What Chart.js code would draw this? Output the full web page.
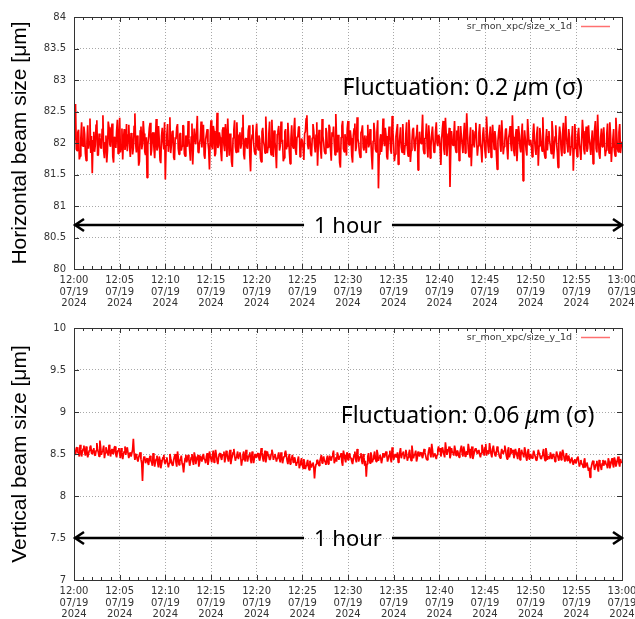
<!DOCTYPE html>
<html>
<head>
<meta charset="utf-8">
<script src="https://cdn.jsdelivr.net/npm/chart.js@4/dist/chart.umd.min.js"></script>
<style>
  body { margin: 0; background: #fff; }
  #wrap { position: relative; width: 635px; height: 619px; }
  #wrap canvas { position: absolute; left: 0; }
</style>
</head>
<body>
<div id="wrap">
  <canvas id="sizeXChart" width="635" height="310" style="top:0"></canvas>
  <canvas id="sizeYChart" width="635" height="309" style="top:310px"></canvas>
</div>
<script>
// x axis: minutes after 12:00, one sample every 5 s
const tickTimes = ['12:00', '12:05', '12:10', '12:15', '12:20', '12:25', '12:30',
                   '12:35', '12:40', '12:45', '12:50', '12:55', '13:00'];
const tickDate = '07/19';
const tickYear = '2024';
const stepMin = 5 / 60;

// horizontal beam size [um], one row = 2 minutes
const sizeX = [
  82.05, 82.31, 82.62, 81.90, 81.88, 82.17, 82.21, 81.74, 81.79, 82.08, 82.33, 81.96, 81.95, 82.26, 82.14, 81.83, 81.72, 82.02, 82.28, 81.91, 82.02, 82.39, 81.84, 82.11,
  81.52, 82.04, 82.18, 81.86, 81.97, 82.29, 82.36, 81.80, 81.81, 82.15, 82.09, 81.93, 81.91, 82.22, 82.44, 81.87, 81.76, 82.01, 82.12, 81.69, 81.88, 82.34, 82.25, 81.98,
  81.94, 82.19, 82.31, 81.78, 81.69, 82.10, 82.07, 81.92, 82.19, 82.37, 81.83, 82.00, 82.40, 81.85, 81.96, 82.23, 81.74, 82.06, 82.22, 81.89, 82.01, 82.30, 81.87, 82.13,
  82.29, 81.95, 81.78, 82.16, 82.11, 81.82, 81.92, 82.27, 82.47, 81.99, 81.85, 82.12, 82.03, 81.64, 81.71, 82.20, 82.26, 81.90, 81.99, 82.35, 82.15, 81.86, 81.81, 82.09,
  81.45, 81.97, 82.08, 82.24, 82.32, 81.80, 81.89, 82.14, 82.17, 81.93, 81.76, 82.05, 82.38, 81.88, 81.94, 82.27, 82.05, 81.73, 81.68, 82.11, 82.24, 82.02, 81.90, 82.33,
  81.42, 81.96, 82.13, 82.30, 81.86, 82.04, 82.41, 81.84, 81.97, 82.18, 82.20, 81.77, 81.73, 82.09, 82.06, 82.25, 82.30, 81.91, 81.82, 82.14, 82.16, 81.88, 81.95, 82.28,
  82.27, 81.83, 81.79, 82.12, 82.02, 81.94, 82.35, 82.07, 81.88, 81.72, 82.10, 82.31, 81.66, 81.98, 82.23, 82.05, 81.98, 82.19, 82.43, 81.86, 81.84, 82.00, 82.07, 82.34,
  81.93, 82.16, 82.29, 81.81, 81.75, 82.06, 82.14, 82.22, 82.01, 81.89, 81.58, 82.11, 82.36, 81.95, 81.90, 82.27, 82.19, 81.79, 81.83, 82.04, 82.48, 81.92, 81.96, 82.17,
  82.09, 81.86, 81.71, 82.20, 82.25, 81.97, 81.87, 82.30, 82.12, 81.78, 82.39, 82.03, 81.80, 82.15, 82.04, 81.70, 81.62, 82.08, 82.21, 82.36, 81.94, 81.85, 82.33, 82.01,
  81.85, 82.13, 82.17, 81.91, 81.98, 82.24, 82.45, 81.82, 81.74, 82.06, 82.08, 81.94, 81.91, 82.20, 82.28, 81.79, 81.55, 82.02, 82.13, 82.29, 82.00, 81.87, 81.82, 82.16,
  82.31, 81.97, 81.89, 82.12, 82.06, 81.76, 81.70, 82.18, 82.24, 82.03, 81.96, 81.84, 82.42, 82.09, 81.84, 81.93, 82.15, 82.34, 81.93, 81.81, 82.37, 82.05, 81.78, 82.20,
  82.02, 81.88, 81.60, 82.14, 82.19, 82.27, 81.88, 81.95, 82.34, 82.01, 82.05, 81.71, 81.76, 82.18, 82.22, 81.90, 81.95, 82.32, 82.11, 81.85, 81.67, 82.06, 82.28, 81.97,
  81.92, 82.21, 82.40, 81.89, 81.81, 82.10, 82.09, 82.25, 82.26, 81.78, 81.86, 82.07, 82.03, 81.92, 81.73, 82.15, 82.18, 82.39, 82.44, 81.97, 81.90, 82.12, 82.07, 81.83,
  81.79, 82.08, 82.30, 82.19, 81.97, 81.85, 82.13, 82.33, 81.64, 81.99, 82.21, 82.04, 81.89, 81.75, 82.38, 82.11, 82.01, 81.87, 81.83, 82.24, 82.16, 81.92, 81.94, 82.29,
  82.25, 81.90, 81.72, 82.17, 82.10, 82.26, 81.99, 81.81, 82.46, 82.06, 81.85, 82.13, 82.04, 81.69, 81.61, 82.09, 82.27, 82.35, 81.91, 81.86, 82.14, 82.02, 81.80, 82.23,
  82.35, 81.98, 81.96, 82.20, 82.08, 81.79, 81.69, 82.12, 82.23, 82.31, 81.87, 81.94, 82.41, 82.07, 82.00, 81.84, 81.77, 82.16, 82.19, 82.28, 81.93, 81.88, 82.12, 82.01,
  81.84, 82.11, 82.29, 81.93, 81.98, 82.22, 82.06, 81.80, 81.58, 82.03, 82.32, 82.17, 81.90, 81.86, 82.17, 82.36, 81.28, 81.82, 82.05, 82.14, 81.86, 81.99, 82.39, 82.08,
  81.95, 82.24, 82.11, 81.78, 81.74, 82.05, 82.26, 82.12, 81.89, 81.83, 82.43, 82.19, 81.97, 81.71, 81.82, 82.10, 82.20, 82.30, 81.66, 81.92, 82.09, 82.25, 81.93, 81.85,
  82.30, 82.02, 81.81, 81.96, 82.15, 82.33, 81.92, 81.79, 82.37, 82.14, 81.70, 81.88, 82.03, 82.21, 82.24, 81.94, 81.87, 82.07, 82.12, 82.29, 81.57, 81.83, 82.18, 82.04,
  81.99, 82.16, 82.45, 81.90, 81.83, 82.08, 82.07, 82.31, 81.94, 81.77, 82.28, 82.10, 81.76, 81.95, 82.14, 82.26, 82.02, 81.85, 81.88, 82.18, 82.33, 82.00, 81.95, 82.13,
  82.10, 81.92, 81.65, 82.06, 82.22, 82.35, 81.90, 81.81, 82.40, 82.15, 81.79, 81.97, 82.06, 82.24, 81.30, 81.88, 82.19, 82.02, 81.96, 82.11, 82.35, 81.93, 81.85, 82.20,
  82.04, 82.27, 81.72, 81.86, 82.27, 82.09, 81.98, 81.84, 82.13, 82.32, 81.84, 82.01, 82.47, 82.15, 81.91, 81.78, 82.08, 82.25, 81.63, 81.97, 82.21, 82.06, 81.93, 82.18,
  82.32, 82.05, 81.80, 81.95, 82.16, 82.30, 82.00, 81.89, 81.69, 82.12, 82.25, 82.04, 81.87, 81.76, 82.42, 82.17, 81.95, 81.84, 82.11, 82.26, 81.77, 81.99, 82.29, 82.09,
  81.90, 82.19, 82.07, 81.82, 81.58, 82.03, 82.18, 82.29, 81.96, 81.86, 82.36, 82.12, 81.82, 81.94, 82.03, 82.21, 82.23, 81.91, 81.74, 82.08, 82.15, 82.27, 81.98, 81.87,
  82.44, 82.10, 81.86, 81.79, 82.09, 82.22, 81.71, 81.97, 82.27, 82.14, 81.93, 81.85, 82.12, 82.31, 81.40, 81.92, 82.20, 82.06, 81.89, 81.80, 82.38, 82.16, 81.97, 82.02,
  82.05, 81.94, 81.78, 82.13, 82.31, 82.07, 81.92, 81.81, 82.14, 82.26, 81.64, 81.95, 82.24, 82.12, 81.99, 81.87, 82.41, 82.03, 81.83, 81.76, 82.06, 82.22, 81.88, 82.10,
  82.19, 82.02, 81.95, 81.83, 82.35, 82.18, 81.75, 81.90, 82.10, 82.28, 82.01, 81.86, 81.61, 82.05, 82.26, 82.14, 81.90, 81.79, 82.16, 82.32, 81.84, 81.96, 82.43, 82.11,
  81.97, 81.85, 82.22, 82.09, 81.80, 81.94, 82.08, 82.27, 81.56, 81.91, 82.30, 82.12, 81.93, 81.78, 82.13, 82.24, 82.00, 81.88, 81.73, 82.05, 82.37, 82.19, 81.89, 81.82,
  82.11, 82.26, 81.86, 81.92, 82.28, 82.06, 81.96, 81.81, 82.04, 82.20, 81.67, 81.94, 82.21, 82.35, 81.91, 81.85, 82.45, 82.09, 81.82, 81.75, 82.09, 82.23, 81.94, 82.03,
  82.25, 82.01, 81.79, 81.88, 82.14, 82.31, 81.99, 81.84, 82.33, 82.12, 81.70, 81.93, 82.06, 82.22, 81.88, 81.79, 82.40, 82.15, 81.92, 81.86, 82.17, 82.30, 81.84, 81.96,
  82.02
];

// vertical beam size [um], one row = 2 minutes
const sizeY = [
  8.55, 8.51, 8.49, 8.57, 8.58, 8.52, 8.51, 8.47, 8.61, 8.55, 8.47, 8.53, 8.56, 8.60, 8.52, 8.48, 8.59, 8.54, 8.46, 8.50, 8.54, 8.58, 8.60, 8.51,
  8.50, 8.55, 8.57, 8.49, 8.48, 8.54, 8.63, 8.56, 8.52, 8.47, 8.66, 8.58, 8.49, 8.53, 8.55, 8.60, 8.45, 8.51, 8.58, 8.54, 8.53, 8.48, 8.61, 8.56,
  8.47, 8.53, 8.56, 8.50, 8.51, 8.58, 8.59, 8.49, 8.46, 8.53, 8.54, 8.57, 8.50, 8.45, 8.57, 8.52, 8.44, 8.50, 8.53, 8.59, 8.49, 8.55, 8.58, 8.51,
  8.45, 8.50, 8.52, 8.47, 8.47, 8.55, 8.68, 8.51, 8.43, 8.48, 8.50, 8.44, 8.41, 8.46, 8.49, 8.52, 8.44, 8.39, 8.18, 8.42, 8.47, 8.45, 8.39, 8.43,
  8.45, 8.40, 8.37, 8.44, 8.48, 8.42, 8.40, 8.36, 8.51, 8.45, 8.35, 8.41, 8.44, 8.48, 8.39, 8.34, 8.47, 8.43, 8.33, 8.38, 8.43, 8.46, 8.49, 8.40,
  8.38, 8.43, 8.46, 8.40, 8.34, 8.39, 8.50, 8.45, 8.41, 8.37, 8.36, 8.43, 8.47, 8.50, 8.40, 8.35, 8.53, 8.46, 8.37, 8.41, 8.44, 8.48, 8.39, 8.36,
  8.28, 8.38, 8.45, 8.49, 8.40, 8.44, 8.49, 8.43, 8.36, 8.41, 8.46, 8.50, 8.42, 8.37, 8.52, 8.47, 8.38, 8.43, 8.44, 8.49, 8.35, 8.40, 8.48, 8.45,
  8.41, 8.47, 8.50, 8.44, 8.43, 8.39, 8.47, 8.51, 8.37, 8.42, 8.53, 8.48, 8.44, 8.40, 8.49, 8.54, 8.40, 8.45, 8.55, 8.49, 8.42, 8.38, 8.46, 8.50,
  8.51, 8.46, 8.43, 8.49, 8.49, 8.53, 8.40, 8.45, 8.54, 8.50, 8.45, 8.41, 8.50, 8.55, 8.38, 8.44, 8.47, 8.52, 8.56, 8.49, 8.42, 8.46, 8.48, 8.53,
  8.44, 8.49, 8.52, 8.47, 8.36, 8.43, 8.49, 8.53, 8.45, 8.41, 8.55, 8.50, 8.41, 8.46, 8.48, 8.52, 8.43, 8.39, 8.53, 8.48, 8.39, 8.45, 8.50, 8.46,
  8.46, 8.50, 8.51, 8.45, 8.42, 8.48, 8.57, 8.52, 8.45, 8.41, 8.49, 8.54, 8.40, 8.46, 8.53, 8.49, 8.47, 8.43, 8.44, 8.50, 8.55, 8.51, 8.43, 8.47,
  8.50, 8.46, 8.41, 8.45, 8.48, 8.52, 8.44, 8.40, 8.52, 8.48, 8.39, 8.44, 8.47, 8.51, 8.54, 8.48, 8.42, 8.38, 8.46, 8.50, 8.38, 8.42, 8.45, 8.49,
  8.40, 8.44, 8.46, 8.41, 8.36, 8.40, 8.43, 8.47, 8.33, 8.37, 8.41, 8.45, 8.37, 8.33, 8.44, 8.39, 8.32, 8.36, 8.39, 8.43, 8.35, 8.31, 8.42, 8.38,
  8.34, 8.38, 8.40, 8.35, 8.21, 8.33, 8.38, 8.42, 8.43, 8.39, 8.36, 8.41, 8.45, 8.49, 8.39, 8.43, 8.47, 8.42, 8.41, 8.37, 8.44, 8.48, 8.38, 8.42,
  8.48, 8.44, 8.42, 8.47, 8.50, 8.54, 8.39, 8.43, 8.46, 8.41, 8.52, 8.48, 8.43, 8.47, 8.47, 8.51, 8.40, 8.36, 8.54, 8.49, 8.44, 8.40, 8.49, 8.52,
  8.43, 8.47, 8.51, 8.46, 8.45, 8.41, 8.38, 8.44, 8.49, 8.53, 8.44, 8.40, 8.56, 8.50, 8.41, 8.45, 8.47, 8.51, 8.42, 8.38, 8.50, 8.46, 8.36, 8.42,
  8.23, 8.38, 8.47, 8.51, 8.43, 8.39, 8.52, 8.48, 8.40, 8.44, 8.48, 8.53, 8.45, 8.41, 8.55, 8.50, 8.42, 8.46, 8.49, 8.45, 8.39, 8.44, 8.51, 8.47,
  8.46, 8.50, 8.53, 8.48, 8.41, 8.45, 8.49, 8.54, 8.44, 8.40, 8.58, 8.51, 8.43, 8.47, 8.50, 8.46, 8.47, 8.52, 8.40, 8.44, 8.52, 8.57, 8.45, 8.49,
  8.49, 8.53, 8.44, 8.48, 8.55, 8.50, 8.42, 8.46, 8.51, 8.55, 8.46, 8.42, 8.60, 8.52, 8.45, 8.49, 8.50, 8.54, 8.41, 8.45, 8.53, 8.49, 8.47, 8.51,
  8.52, 8.48, 8.45, 8.50, 8.56, 8.52, 8.48, 8.44, 8.43, 8.48, 8.54, 8.58, 8.50, 8.46, 8.62, 8.55, 8.46, 8.50, 8.51, 8.47, 8.44, 8.49, 8.55, 8.59,
  8.53, 8.57, 8.47, 8.51, 8.58, 8.54, 8.50, 8.46, 8.64, 8.56, 8.49, 8.53, 8.55, 8.59, 8.45, 8.49, 8.57, 8.52, 8.52, 8.48, 8.60, 8.55, 8.48, 8.53,
  8.54, 8.50, 8.46, 8.51, 8.56, 8.60, 8.51, 8.47, 8.59, 8.54, 8.47, 8.52, 8.53, 8.49, 8.62, 8.56, 8.49, 8.45, 8.55, 8.59, 8.44, 8.48, 8.52, 8.56,
  8.57, 8.53, 8.50, 8.54, 8.55, 8.49, 8.46, 8.51, 8.61, 8.57, 8.52, 8.48, 8.58, 8.62, 8.48, 8.53, 8.54, 8.50, 8.63, 8.56, 8.50, 8.46, 8.56, 8.60,
  8.53, 8.49, 8.47, 8.52, 8.59, 8.55, 8.51, 8.47, 8.45, 8.50, 8.56, 8.52, 8.50, 8.54, 8.60, 8.55, 8.48, 8.44, 8.54, 8.58, 8.46, 8.50, 8.57, 8.53,
  8.51, 8.55, 8.45, 8.49, 8.56, 8.52, 8.48, 8.44, 8.53, 8.57, 8.43, 8.47, 8.55, 8.51, 8.50, 8.46, 8.58, 8.54, 8.46, 8.42, 8.52, 8.56, 8.44, 8.48,
  8.50, 8.46, 8.45, 8.49, 8.54, 8.50, 8.47, 8.43, 8.42, 8.47, 8.55, 8.51, 8.49, 8.45, 8.44, 8.48, 8.52, 8.56, 8.46, 8.42, 8.57, 8.52, 8.43, 8.47,
  8.48, 8.44, 8.52, 8.48, 8.44, 8.49, 8.50, 8.46, 8.41, 8.45, 8.53, 8.49, 8.46, 8.42, 8.49, 8.53, 8.43, 8.47, 8.55, 8.51, 8.45, 8.41, 8.47, 8.51,
  8.42, 8.46, 8.48, 8.43, 8.39, 8.44, 8.46, 8.41, 8.37, 8.42, 8.44, 8.39, 8.40, 8.45, 8.47, 8.42, 8.35, 8.39, 8.43, 8.38, 8.38, 8.34, 8.41, 8.45,
  8.34, 8.38, 8.40, 8.35, 8.30, 8.34, 8.22, 8.31, 8.36, 8.40, 8.42, 8.37, 8.31, 8.35, 8.38, 8.42, 8.33, 8.29, 8.43, 8.39, 8.35, 8.31, 8.39, 8.43,
  8.36, 8.40, 8.42, 8.38, 8.37, 8.33, 8.45, 8.41, 8.33, 8.37, 8.41, 8.45, 8.38, 8.34, 8.46, 8.42, 8.35, 8.39, 8.43, 8.47, 8.39, 8.35, 8.44, 8.40,
  8.40
];

const tickFont = { family: 'DejaVu Sans', size: 10, lineHeight: 1.15 };
const noteFont = '"Noto Sans", "Open Sans", sans-serif';

// gnuplot style frame: border, inward ticks, legend, arrow and notes
const framePlugin = {
  id: 'frame',
  afterDatasetsDraw(chart, args, opts) {
    const { ctx, chartArea: a, scales: { x, y } } = chart;
    ctx.save();

    // inward tick marks (minor every minute)
    ctx.strokeStyle = '#333';
    ctx.lineWidth = 1;
    ctx.beginPath();
    for (let m = x.min; m <= x.max; m++) {
      const px = Math.round(x.getPixelForValue(m)) + 0.5;
      const len = m % 5 === 0 ? 5 : 3;
      ctx.moveTo(px, a.bottom); ctx.lineTo(px, a.bottom - len);
      ctx.moveTo(px, a.top); ctx.lineTo(px, a.top + len);
    }
    y.ticks.forEach(t => {
      const py = Math.round(y.getPixelForValue(t.value)) + 0.5;
      ctx.moveTo(a.left, py); ctx.lineTo(a.left + 5, py);
      ctx.moveTo(a.right, py); ctx.lineTo(a.right - 5, py);
    });
    ctx.stroke();
    ctx.strokeRect(Math.round(a.left) + 0.5, Math.round(a.top) + 0.5,
                   Math.round(a.right - a.left), Math.round(a.bottom - a.top));

    // legend
    const ly = a.top + 9.5;
    ctx.font = '9.5px "DejaVu Sans"';
    ctx.fillStyle = '#333';
    ctx.textAlign = 'right';
    ctx.textBaseline = 'middle';
    ctx.fillText(opts.legend, a.right - 50, ly);
    ctx.strokeStyle = '#ff7070';
    ctx.lineWidth = 1.5;
    ctx.beginPath();
    ctx.moveTo(a.right - 41, ly); ctx.lineTo(a.right - 12, ly);
    ctx.stroke();

    // fluctuation note, mu in italics
    let nx = x.getPixelForValue(opts.noteAt[0]);
    const ny = y.getPixelForValue(opts.noteAt[1]);
    ctx.fillStyle = '#000';
    ctx.textAlign = 'left';
    ctx.textBaseline = 'alphabetic';
    opts.note.forEach(([txt, italic]) => {
      ctx.font = (italic ? 'italic ' : '') + '23px ' + noteFont;
      ctx.fillText(txt, nx, ny);
      nx += ctx.measureText(txt).width;
    });

    // "1 hour" double arrow across the whole range
    const ay = Math.round(y.getPixelForValue(opts.arrowY));
    const x0 = x.getPixelForValue(x.min) + 1;
    const x1 = x.getPixelForValue(x.max);
    const xc = x.getPixelForValue((x.min + x.max) / 2);
    ctx.font = '22px ' + noteFont;
    ctx.textAlign = 'center';
    const tw = ctx.measureText(opts.arrowText).width;
    ctx.fillText(opts.arrowText, xc, ay + 7.5);
    ctx.strokeStyle = '#000';
    ctx.lineWidth = 2.5;
    ctx.beginPath();
    ctx.moveTo(x0, ay); ctx.lineTo(xc - tw / 2 - 10, ay);
    ctx.moveTo(xc + tw / 2 + 10, ay); ctx.lineTo(x1, ay);
    ctx.moveTo(x0 + 9, ay - 6); ctx.lineTo(x0, ay); ctx.lineTo(x0 + 9, ay + 6);
    ctx.moveTo(x1 - 9, ay - 6); ctx.lineTo(x1, ay); ctx.lineTo(x1 - 9, ay + 6);
    ctx.stroke();

    ctx.restore();
  }
};

function makeChart(id, values, cfg) {
  return new Chart(document.getElementById(id), {
    type: 'line',
    data: {
      datasets: [{
        label: cfg.legend,
        data: values.map((v, i) => ({ x: i * stepMin, y: v })),
        borderColor: '#ff0000',
        borderWidth: 1.7,
        borderJoinStyle: 'bevel',
        pointRadius: 0,
        tension: 0
      }]
    },
    options: {
      responsive: false,
      animation: false,
      layout: { padding: { top: cfg.padTop, right: 13, left: 0, bottom: 0 } },
      plugins: {
        legend: { display: false },
        tooltip: { enabled: false },
        frame: cfg
      },
      scales: {
        x: {
          type: 'linear',
          min: 0,
          max: 60,
          afterFit: s => { s.height = cfg.xAxisHeight; s.paddingLeft = 0; s.paddingRight = 0; },
          ticks: {
            stepSize: 5,
            autoSkip: false,
            maxRotation: 0,
            padding: 6,
            color: '#333',
            font: tickFont,
            callback: v => [tickTimes[v / 5], tickDate, tickYear]
          },
          grid: { color: '#a8a8a8', drawTicks: false },
          border: { display: false, dash: [1, 2] }
        },
        y: {
          min: cfg.yRange[0],
          max: cfg.yRange[1],
          afterFit: s => { s.width = 74; },
          ticks: {
            stepSize: 0.5,
            padding: 8,
            color: '#333',
            font: tickFont,
            callback: v => String(v)
          },
          grid: { color: '#a8a8a8', drawTicks: false },
          border: { display: false, dash: [1, 2] },
          title: {
            display: true,
            text: cfg.yTitle,
            color: '#000',
            font: { family: 'Liberation Sans', size: 21, lineHeight: 1.2 },
            padding: { top: 8, bottom: 0 }
          }
        }
      }
    },
    plugins: [framePlugin]
  });
}

makeChart('sizeXChart', sizeX, {
  padTop: 17,
  xAxisHeight: 41,
  yRange: [80, 84],
  yTitle: 'Horizontal beam size [μm]',
  legend: 'sr_mon_xpc/size_x_1d',
  note: [['Fluctuation: 0.2 ', false], ['μ', true], ['m (σ)', false]],
  noteAt: [29.4, 82.76],
  arrowY: 80.7,
  arrowText: '1 hour'
});

makeChart('sizeYChart', sizeY, {
  padTop: 18,
  xAxisHeight: 39,
  yRange: [7, 10],
  yTitle: 'Vertical beam size [μm]',
  legend: 'sr_mon_xpc/size_y_1d',
  note: [['Fluctuation: 0.06 ', false], ['μ', true], ['m (σ)', false]],
  noteAt: [29.2, 8.865],
  arrowY: 7.5,
  arrowText: '1 hour'
});
</script>
</body>
</html>
